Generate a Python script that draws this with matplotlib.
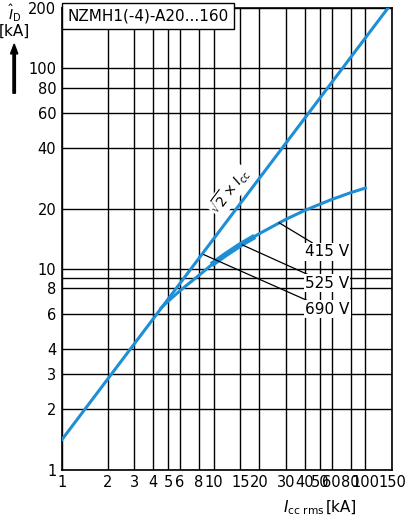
import numpy as np
import matplotlib.pyplot as plt

plt.rcParams['font.family'] = ['Liberation Sans Narrow', 'DejaVu Sans']

# ticks and grid
x_ticks = [1, 2, 3, 4, 5, 6, 8, 10, 15, 20, 30, 40, 50, 60, 80, 100, 150]
x_labels = ['1', '2', '3', '4', '5', '6', '8', '10', '15', '20', '30', '40', '50', '60', '80', '100', '150']
y_ticks = [1, 2, 3, 4, 6, 8, 10, 20, 40, 60, 80, 100, 200]
y_extra_grid = [9]

# sqrt(2) x Icc line
peak_x = [1, 141]
# limited current curve
lim_x = [4.5, 5, 6, 8, 10, 15, 20, 30, 40, 50, 60, 80, 100]
lim_y = [6.4, 6.9, 7.8, 9.3, 10.7, 13.2, 15.0, 17.7, 19.6, 21.0, 22.2, 24.0, 25.3]

blue = '#1e8fd5'

fig = plt.figure(figsize=(4.05, 5.18), dpi=100)
ax = fig.add_axes([0.153, 0.093, 0.815, 0.892])
ax.set_xscale('log')
ax.set_yscale('log')
ax.set_xlim(1, 150)
ax.set_ylim(1, 200)

for v in x_ticks:
    ax.axvline(v, color='black', lw=1.0, zorder=1)
for v in y_ticks + y_extra_grid:
    ax.axhline(v, color='black', lw=1.0, zorder=1)
ax.set_xticks(x_ticks)
ax.set_xticklabels(x_labels)
ax.set_yticks(y_ticks)
ax.set_yticklabels([str(v) for v in y_ticks])
ax.minorticks_off()
ax.tick_params(length=0, labelsize=10.5, pad=4)
for s in ax.spines.values():
    s.set_linewidth(1.2)

py = [v * np.sqrt(2) for v in peak_x]
ax.plot(peak_x, py, color=blue, lw=2.2, zorder=3)
ax.plot(lim_x, lim_y, color=blue, lw=2.2, zorder=3)
ax.plot([10, 12, 15, 18], [10.7, 11.8, 13.2, 14.3], color=blue, lw=4, zorder=3)

ax.text(12.8, 24.5, r'$\sqrt{2}\times I_{\rm cc}$', rotation=53, ha='center', va='center',
        fontsize=10, bbox=dict(facecolor='white', edgecolor='none', pad=0.5), zorder=4)

ann = [('415 V', (27, 17), (40, 12.2)),
       ('525 V', (15.4, 13.2), (40, 8.5)),
       ('690 V', (8.6, 11.8), (40, 6.3))]
for txt, pt, tp in ann:
    ax.annotate(txt, xy=pt, xytext=tp, fontsize=11, va='center', ha='left', zorder=5,
                bbox=dict(facecolor='white', edgecolor='none', pad=1),
                arrowprops=dict(arrowstyle='-', color='black', lw=0.9, shrinkA=0, shrinkB=0))

ax.text(1.08, 182, 'NZMH1(-4)-A20...160', fontsize=11, va='center', ha='left', zorder=5,
        bbox=dict(facecolor='white', edgecolor='black', pad=4))

fig.text(0.035, 0.975, r'$\hat{I}_{\rm D}$', fontsize=10, ha='center', va='center')
fig.text(0.035, 0.94, '[kA]', fontsize=11, ha='center', va='center')
fig.patches.append(plt.Arrow(0.035, 0.82, 0, 0.095, width=0.03, color='black',
                             transform=fig.transFigure, figure=fig))
fig.text(0.80, 0.02, r'$I_{\rm cc\ rms}$', fontsize=11, ha='right', va='center')
fig.text(0.805, 0.02, '[kA]', fontsize=11, ha='left', va='center')

fig.savefig('out.png', dpi=100)
